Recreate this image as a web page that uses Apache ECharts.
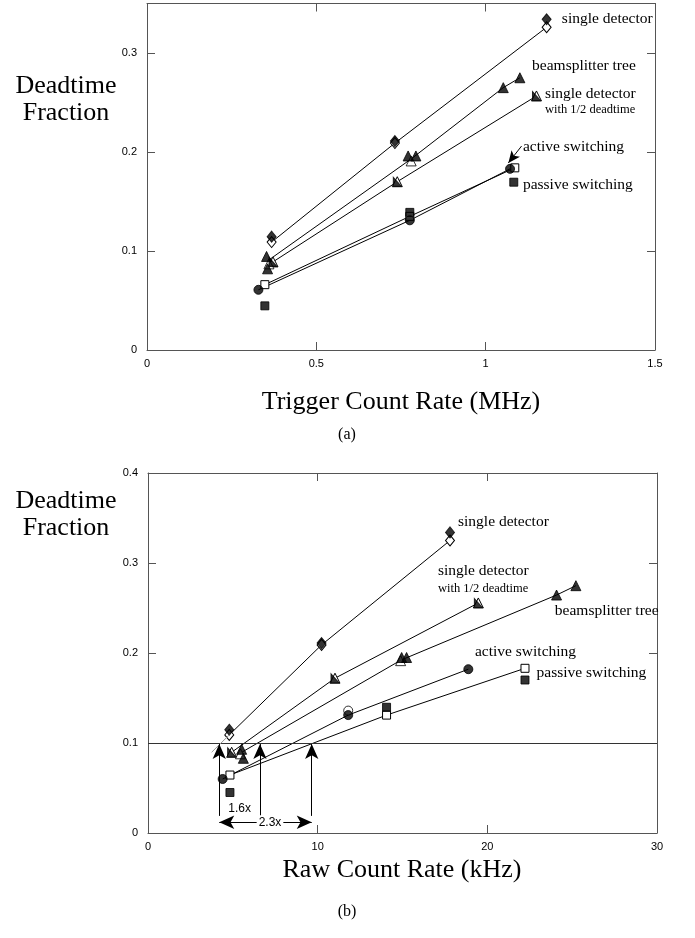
<!DOCTYPE html>
<html><head><meta charset="utf-8">
<script src="https://cdn.jsdelivr.net/npm/echarts@6/dist/echarts.min.js"></script>
<style>html,body{margin:0;padding:0;background:#fff}#c{width:695px;height:938px}</style>
</head><body><div id="c"></div>
<script>
// ===== (a) x = Trigger Count Rate (MHz), y = Deadtime Fraction =====
const a_singleFilled  = [[0.368,0.1145],[0.732,0.211],[1.180,0.334]];
const a_singleOpen    = [[0.368,0.109],[0.732,0.209],[1.180,0.326]];
const a_beamFilled    = [[0.353,0.0945],[0.356,0.082],[0.771,0.196],[0.794,0.196],[1.052,0.265],[1.101,0.275]];
const a_beamLine      = [[0.356,0.090],[0.780,0.193],[1.052,0.265],[1.101,0.275]];
const a_beamOpen      = [[0.360,0.087],[0.780,0.191]];
const a_half          = [[0.372,0.089],[0.739,0.170],[1.150,0.2566]];
const a_activeFilled  = [[0.329,0.0608],[0.776,0.131],[1.072,0.183]];
const a_passiveOpen   = [[0.348,0.066],[0.776,0.135],[1.086,0.184]];
const a_passiveFilled = [[0.348,0.0446],[0.776,0.139],[1.083,0.1695]];
const a_xTicks = {min:0, max:1.5, interval:0.5};
const a_yTicks = {min:0, max:0.35, interval:0.1};
const a_labels = [
  {text:'single detector', x:1.225, y:0.334, size:15.5},
  {text:'beamsplitter tree', x:1.137, y:0.287, size:15.5},
  {text:'single detector', x:1.175, y:0.259, size:15.5},
  {text:'with 1/2 deadtime', x:1.175, y:0.243, size:12.5},
  {text:'active switching', x:1.110, y:0.2047, size:15.5},
  {text:'passive switching', x:1.110, y:0.167, size:15.5}
];
const a_activeArrow = [[1.106,0.206],[1.067,0.189]];

// ===== (b) x = Raw Count Rate (kHz), y = Deadtime Fraction =====
const b_singleFilled  = [[4.79,0.1148],[10.23,0.211],[17.80,0.334]];
const b_singleOpen    = [[4.79,0.109],[10.23,0.209],[17.80,0.325]];
const b_beamFilled    = [[5.52,0.093],[5.62,0.083],[14.95,0.195],[15.24,0.195],[24.08,0.2644],[25.22,0.2748]];
const b_beamLine      = [[5.55,0.090],[14.9,0.192],[24.08,0.2644],[25.22,0.2748]];
const b_beamOpen      = [[5.45,0.088],[14.89,0.1915]];
const b_half          = [[4.93,0.0897],[11.02,0.172],[19.47,0.2556]];
const b_activeFilled  = [[4.40,0.060],[11.8,0.131],[18.88,0.182]];
const b_activeOpen    = [[11.8,0.136]];
const b_passiveOpen   = [[4.83,0.0644],[14.06,0.131],[22.22,0.183]];
const b_passiveFilled = [[4.83,0.045],[14.06,0.1397],[22.22,0.170]];
const b_xTicks = {min:0, max:30, interval:10};
const b_yTicks = {min:0, max:0.4, interval:0.1};
const b_threshold = 0.1;
const b_arrowX = [4.20, 6.60, 9.65];
const b_arrowBottom = 0.019;
const b_ratioText = ['1.6x','2.3x'];
const b_labels = [
  {text:'single detector', x:18.27, y:0.346, size:15.5},
  {text:'single detector', x:17.09, y:0.2914, size:15.5},
  {text:'with 1/2 deadtime', x:17.09, y:0.271, size:12.5},
  {text:'beamsplitter tree', x:23.98, y:0.247, size:15.5},
  {text:'active switching', x:19.27, y:0.2008, size:15.5},
  {text:'passive switching', x:22.9, y:0.1774, size:15.5}
];

const SERIF = '"Liberation Serif","Times New Roman",serif';
const SANS = '"Liberation Sans",Arial,sans-serif';
const AX = '#555';

const chart = echarts.init(document.getElementById('c'), null, {renderer:'canvas', width:695, height:938});

function xAx(gi, t, pos, labels){
  return {type:'value', gridIndex:gi, min:t.min, max:t.max, interval:t.interval, position:pos,
    axisLine:{show:true, onZero:false, lineStyle:{color:AX, width:1}},
    axisTick:{show:true, inside:true, length:8, lineStyle:{color:AX}},
    axisLabel:{show:labels, color:'#000', fontFamily:SANS, fontSize:11, margin:8},
    splitLine:{show:false}};
}
function yAx(gi, t, pos, labels){
  return {type:'value', gridIndex:gi, min:t.min, max:t.max, interval:t.interval, position:pos,
    axisLine:{show:true, onZero:false, lineStyle:{color:AX, width:1}},
    axisTick:{show:true, inside:true, length:8, lineStyle:{color:AX}},
    axisLabel:{show:labels, color:'#000', fontFamily:SANS, fontSize:11, margin:10, showMaxLabel: t.max===0.4},
    splitLine:{show:false}};
}
function lineS(ax, data, symbol, size, fill){
  return {type:'line', xAxisIndex:ax, yAxisIndex:ax, data, symbol, symbolSize:size, showSymbol:true,
    lineStyle:{color:'#000', width:1}, itemStyle:{color:fill, borderColor:'#000', borderWidth:1},
    z:2, silent:true, animation:false};
}
function dotS(ax, data, symbol, size, fill, z){
  return {type:'scatter', xAxisIndex:ax, yAxisIndex:ax, data, symbol, symbolSize:size,
    itemStyle:{color:fill, borderColor:'#000', borderWidth:1}, z:z||3, silent:true, animation:false};
}
const HALF = 'path://M0,0L0,10L10,10Z';

function panel(ax, d){
  return [
    lineS(ax, d.singleOpen, 'diamond', [9,11], '#fff'),
    lineS(ax, d.beamLine, 'none', 0, '#000'),
    lineS(ax, d.half, 'triangle', 10, '#fff'),
    lineS(ax, d.active, 'none', 0, '#000'),
    lineS(ax, d.passiveOpen, 'rect', 8, '#fff'),
    dotS(ax, d.beamOpen, 'triangle', 10, '#fff', 3),
    dotS(ax, d.half, HALF, [8,9], '#000', 4),
    dotS(ax, d.singleFilled, 'diamond', [9,11], '#000', 4),
    dotS(ax, d.beamFilled, 'triangle', 10, '#000', 4),
    dotS(ax, d.activeOpen || [], 'circle', 9, '#fff', 4),
    dotS(ax, d.activeFilled, 'circle', 9, '#000', 5),
    dotS(ax, d.passiveFilled, 'rect', 8, '#000', 5)
  ];
}

const seriesA = panel(0, {singleOpen:a_singleOpen, beamLine:a_beamLine, half:a_half, active:a_activeFilled,
  passiveOpen:a_passiveOpen, beamOpen:a_beamOpen, singleFilled:a_singleFilled, beamFilled:a_beamFilled,
  activeFilled:a_activeFilled, passiveFilled:a_passiveFilled});
seriesA[3].markLine = {silent:true, animation:false, symbol:['none','arrow'], symbolSize:[8,12],
  lineStyle:{color:'#000', width:1, type:'solid'}, label:{show:false},
  data:[[{coord:a_activeArrow[0]},{coord:a_activeArrow[1]}]]};

const seriesB = panel(2, {singleOpen:b_singleOpen, beamLine:b_beamLine, half:b_half, active:b_activeFilled,
  passiveOpen:b_passiveOpen, beamOpen:b_beamOpen, singleFilled:b_singleFilled, beamFilled:b_beamFilled,
  activeOpen:b_activeOpen, activeFilled:b_activeFilled, passiveFilled:b_passiveFilled});
seriesB.push({type:'line', xAxisIndex:2, yAxisIndex:2, data:[], silent:true, animation:false,
  markLine:{silent:true, animation:false, symbol:['none','none'], label:{show:false},
    lineStyle:{color:'#333', width:1, type:'solid'}, data:[{yAxis:b_threshold}]}});
seriesB.push({type:'line', xAxisIndex:2, yAxisIndex:2, data:[], silent:true, animation:false,
  markLine:{silent:true, animation:false, symbol:['none','none'], label:{show:false},
    lineStyle:{color:'#999', width:1, type:'solid'},
    data:[[{coord:[3.75,0.0897]},{coord:b_singleOpen[0]}]]}});
seriesB.push({type:'line', xAxisIndex:2, yAxisIndex:2, data:[], silent:true, animation:false,
  markLine:{silent:true, animation:false, symbol:['none','arrow'], symbolSize:[10,15], label:{show:false},
    lineStyle:{color:'#000', width:1, type:'solid'},
    data:b_arrowX.map(x=>[{coord:[x,b_arrowBottom]},{coord:[x,b_threshold-0.0012]}])}});
seriesB.push({type:'line', xAxisIndex:2, yAxisIndex:2, data:[], silent:true, animation:false,
  markLine:{silent:true, animation:false, symbol:['arrow','arrow'], symbolSize:[10,15], label:{show:false},
    lineStyle:{color:'#000', width:1, type:'solid'},
    data:[[{coord:[b_arrowX[0],0.0119]},{coord:[b_arrowX[2],0.0119]}]]}});

chart.setOption({
  animation:false,
  backgroundColor:'#fff',
  grid:[
    {left:147, top:3.5, width:508, height:346.5},
    {left:148, top:473, width:509, height:360}
  ],
  xAxis:[xAx(0,a_xTicks,'bottom',true), xAx(0,a_xTicks,'top',false), xAx(1,b_xTicks,'bottom',true), xAx(1,b_xTicks,'top',false)],
  yAxis:[yAx(0,a_yTicks,'left',true), yAx(0,a_yTicks,'right',false), yAx(1,b_yTicks,'left',true), yAx(1,b_yTicks,'right',false)],
  series: seriesA.concat(seriesB)
});

function txt(x, y, text, font, align, bg){
  const s = {text, font, fill:'#000', align:align||'left', verticalAlign:'middle',
    textAlign:align||'left', textVerticalAlign:'middle'};
  if (bg) { s.backgroundColor = '#fff'; s.padding = [1,2]; }
  return {type:'text', x, y, style:s, z:100, silent:true};
}
const g = [];
a_labels.forEach(l=>{ const p = chart.convertToPixel({xAxisIndex:0, yAxisIndex:0}, [l.x,l.y]);
  g.push(txt(p[0], p[1], l.text, l.size+'px '+SERIF)); });
b_labels.forEach(l=>{ const p = chart.convertToPixel({xAxisIndex:2, yAxisIndex:2}, [l.x,l.y]);
  g.push(txt(p[0], p[1], l.text, l.size+'px '+SERIF)); });
const p16 = chart.convertToPixel({xAxisIndex:2, yAxisIndex:2}, [(b_arrowX[0]+b_arrowX[1])/2, 0.0274]);
g.push(txt(p16[0], p16[1], b_ratioText[0], '12px '+SANS, 'center'));
const p23 = chart.convertToPixel({xAxisIndex:2, yAxisIndex:2}, [7.19, 0.0119]);
g.push(txt(p23[0], p23[1], b_ratioText[1], '12px '+SANS, 'center', true));
g.push(txt(66, 86, 'Deadtime', '26px '+SERIF, 'center'));
g.push(txt(66, 113, 'Fraction', '26px '+SERIF, 'center'));
g.push(txt(401, 402, 'Trigger Count Rate (MHz)', '26px '+SERIF, 'center'));
g.push(txt(347, 435, '(a)', '16px '+SERIF, 'center'));
g.push(txt(66, 501, 'Deadtime', '26px '+SERIF, 'center'));
g.push(txt(66, 528, 'Fraction', '26px '+SERIF, 'center'));
g.push(txt(402, 870, 'Raw Count Rate (kHz)', '26px '+SERIF, 'center'));
g.push(txt(347, 912, '(b)', '16px '+SERIF, 'center'));
chart.setOption({graphic: g});
</script>
</body></html>
